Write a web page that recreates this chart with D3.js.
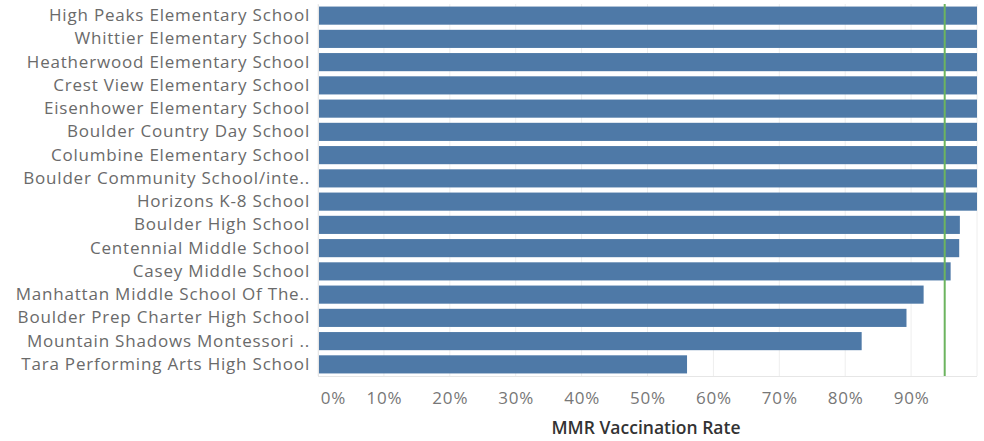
<!DOCTYPE html>
<html>
<head>
<meta charset="utf-8">
<script src="https://cdn.jsdelivr.net/npm/d3@7"></script>
<style>
  body { margin: 0; background: #fff; }
  svg text { font-family: "Open Sans", "Noto Sans", sans-serif; }
</style>
</head>
<body>
<div id="chart"></div>
<script>
var schools = [
  'High Peaks Elementary School',
  'Whittier Elementary School',
  'Heatherwood Elementary School',
  'Crest View Elementary School',
  'Eisenhower Elementary School',
  'Boulder Country Day School',
  'Columbine Elementary School',
  'Boulder Community School/inte..',
  'Horizons K-8 School',
  'Boulder High School',
  'Centennial Middle School',
  'Casey Middle School',
  'Manhattan Middle School Of The..',
  'Boulder Prep Charter High School',
  'Mountain Shadows Montessori ..',
  'Tara Performing Arts High School'
];
var rates = [1, 1, 1, 1, 1, 1, 1, 1, 1, 0.974, 0.973, 0.96, 0.919, 0.893, 0.825, 0.56];
var tickValues = [0, 0.1, 0.2, 0.3, 0.4, 0.5, 0.6, 0.7, 0.8, 0.9];
var targetRate = 0.951;

var width = 984,
    height = 441,
    margin = { top: 4, right: 7, bottom: 65, left: 318 };

var svg = d3.select('#chart')
  .append('svg')
  .attr('width', width)
  .attr('height', height);

var xScale = d3.scaleLinear()
  .domain([0, 1])
  .range([margin.left, width - margin.right]);

var yScale = d3.scaleBand()
  .domain(schools)
  .range([margin.top, height - margin.bottom])
  .paddingInner(0.22)
  .paddingOuter(0.11);

// grid lines
svg.append('g')
  .selectAll('line')
  .data(tickValues.concat([1]))
  .enter()
  .append('line')
  .attr('x1', function(d) { return xScale(d); })
  .attr('x2', function(d) { return xScale(d); })
  .attr('y1', margin.top)
  .attr('y2', height - margin.bottom)
  .attr('stroke', '#eeeeee')
  .attr('stroke-width', 1);

svg.append('line')
  .attr('x1', margin.left)
  .attr('x2', width - margin.right)
  .attr('y1', height - margin.bottom + 0.5)
  .attr('y2', height - margin.bottom + 0.5)
  .attr('stroke', '#e6e6e6');

svg.append('g')
  .selectAll('rect')
  .data(rates)
  .enter()
  .append('rect')
  .attr('x', xScale(0))
  .attr('y', function(d, i) { return yScale(schools[i]); })
  .attr('width', function(d) { return xScale(d) - xScale(0); })
  .attr('height', yScale.bandwidth())
  .attr('fill', '#4e79a7');

// reference line
svg.append('line')
  .attr('x1', xScale(targetRate))
  .attr('x2', xScale(targetRate))
  .attr('y1', margin.top)
  .attr('y2', height - margin.bottom)
  .attr('stroke', '#6cb45f')
  .attr('stroke-width', 2);

var yAxis = d3.axisLeft(yScale).tickSize(0).tickPadding(8);
var yAxisGroup = svg.append('g')
  .attr('transform', 'translate(' + margin.left + ',0)')
  .call(yAxis);
yAxisGroup.select('.domain').attr('stroke', '#e6e6e6');
yAxisGroup.selectAll('text')
  .attr('fill', '#6a6a6a')
  .style('font-size', '17px')
  .style('letter-spacing', '0.8px');

var xAxis = d3.axisBottom(xScale)
  .tickValues(tickValues)
  .tickFormat(d3.format('.0%'))
  .tickSize(0)
  .tickPadding(16);
var xAxisGroup = svg.append('g')
  .attr('transform', 'translate(0,' + (height - margin.bottom) + ')')
  .call(xAxis);
xAxisGroup.select('.domain').remove();
xAxisGroup.selectAll('text')
  .attr('fill', '#777')
  .style('font-size', '17px')
  .style('letter-spacing', '0.8px');
// first label is nudged inside like tableau does
xAxisGroup.selectAll('.tick')
  .filter(function(d) { return d === 0; })
  .select('text')
  .attr('dx', 15);

svg.append('text')
  .attr('x', 646)
  .attr('y', 434)
  .attr('text-anchor', 'middle')
  .attr('fill', '#333')
  .style('font-size', '17.5px')
  .style('font-weight', '600')
  .text('MMR Vaccination Rate');
</script>
</body>
</html>
